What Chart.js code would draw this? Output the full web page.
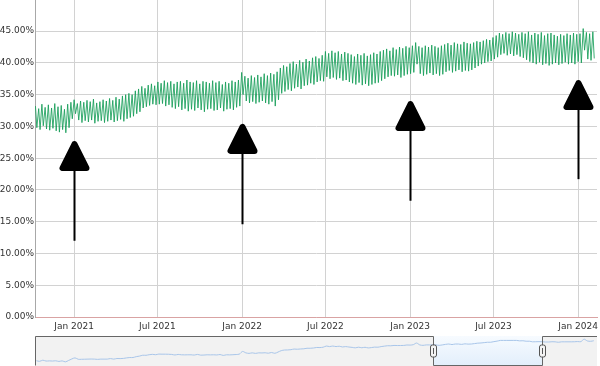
<!DOCTYPE html>
<html>
<head>
<meta charset="utf-8">
<script src="https://cdn.jsdelivr.net/npm/chart.js@4.4.1/dist/chart.umd.min.js"></script>
<style>
  body { margin: 0; background: #fff; }
  #wrap { position: relative; width: 600px; height: 366px; }
  #main { position: absolute; left: 0; top: 0; width: 600px; height: 334px; }
  #nav { position: absolute; left: 0; top: 336px; width: 600px; height: 30px; }
</style>
</head>
<body>
<div id="wrap">
  <div id="main"><canvas id="mainChart"></canvas></div>
  <div id="nav"><canvas id="navChart"></canvas></div>
</div>
<script>
// first week of data and end of the visible range
var startDate = '2020-10-08';
var endDate = '2024-02-11';

// weekly peaks and troughs (%), one entry per week from startDate
var weeklyHigh = [
    33.2, 32.8, 33.5, 33.0, 33.4, 32.9, 33.6, 33.1, 33.3, 32.7, 33.5, 33.8,
    34.2, 33.6, 34.0, 33.8, 34.1, 33.9, 34.3, 33.7,
    33.9, 34.2, 34.0, 34.4, 34.1, 34.6, 34.3, 34.8, 35.0,
    35.2, 35.0, 35.6, 35.9, 36.3, 36.0, 36.5, 36.7, 36.4,
    37.0, 36.8, 37.2, 36.9, 37.1, 36.7, 37.0,
    37.1, 36.8, 37.3, 37.0, 36.9, 37.2, 36.7, 37.1, 37.0, 36.8, 37.2, 36.9, 37.1, 36.6, 37.0, 36.8, 37.2, 37.0, 37.3,
    38.5,
    37.9, 37.6, 38.0, 37.7, 38.1, 37.8, 38.3, 38.0, 38.4, 38.2, 38.6,
    39.2, 39.6, 39.4, 39.9, 40.2, 39.8, 40.4, 40.1, 40.6, 40.3, 40.8, 41.0, 40.7, 41.2,
    41.8, 41.5, 41.9, 41.6, 41.8, 41.4, 41.7, 41.5,
    41.3, 41.0, 41.4, 41.2, 41.5, 41.1, 41.3, 41.6, 41.4, 41.8, 42.0,
    42.2, 41.9, 42.4, 42.1, 42.5, 42.3, 42.6, 42.4, 42.7,
    43.2,
    42.6, 42.4, 42.7, 42.5, 42.8, 42.6, 42.4, 42.7,
    42.9, 43.1, 42.8, 43.2, 43.0, 42.9, 43.3, 43.1, 43.0, 43.2, 43.4, 43.3,
    43.5, 43.7, 43.6, 44.0, 44.3,
    44.7, 44.5, 44.8, 44.6, 44.9, 44.7, 44.5, 44.8,
    44.6, 44.9, 44.4, 44.7, 44.5, 44.8, 44.3, 44.6, 44.7, 44.4, 44.2, 44.5, 44.3, 44.6,
    44.4, 44.7, 44.5, 44.6,
    45.4,
    44.8, 44.6, 44.9
];
var weeklyLow = [
    29.8, 29.5, 30.1, 29.6, 29.4, 29.7, 29.3, 29.1, 29.5, 29.0, 29.8, 31.2,
    32.0, 31.0, 30.6, 30.9, 30.7, 31.0, 30.5, 30.8,
    30.9, 30.6, 30.8, 31.0, 30.7, 30.9, 31.1, 30.8, 31.2,
    31.4, 31.6, 32.0, 32.3, 32.9, 33.1, 33.3, 33.5, 33.4,
    33.5, 33.6, 33.2, 33.4, 33.0, 32.8, 33.1,
    32.6, 32.8, 32.4, 32.7, 32.5, 32.9, 32.6, 32.3, 32.7, 32.8, 32.5, 32.6, 32.9, 32.4, 32.7, 32.8, 32.6, 33.0, 33.2,
    35.0,
    34.0, 33.7, 33.9, 33.6, 33.8, 34.0, 33.7, 33.5, 33.9, 33.2, 34.2,
    35.2, 35.5, 35.8, 35.6, 36.0, 36.2, 35.9, 36.4, 36.5, 36.8, 36.6, 37.0, 37.2, 37.1,
    37.8, 37.5, 37.7, 37.4, 37.6, 37.2, 37.3, 37.0,
    36.8, 36.6, 36.9, 36.5, 36.7, 36.4, 36.6, 36.8, 36.9, 37.2, 37.5,
    37.8, 38.0, 37.9, 38.1, 37.7, 38.0, 38.2, 38.3, 38.5,
    39.8,
    38.3, 38.0, 38.2, 38.4, 38.1, 38.3, 38.0, 38.2,
    38.6, 38.8, 38.5, 38.7, 38.9, 38.6, 38.8, 38.7, 38.9, 39.2, 39.5, 39.8,
    40.0, 40.2, 40.3, 40.6, 40.9,
    41.3, 41.5, 41.2, 41.4, 41.1, 41.3, 41.0, 40.8,
    40.5, 40.2, 40.0, 39.8, 40.1, 39.7, 39.9, 39.6, 39.8, 40.0, 39.7, 39.9, 40.1, 39.8,
    40.0, 39.8, 40.2, 40.0,
    42.0,
    40.6, 40.4, 40.7
];

var tickDates = ['2021-01-01', '2021-07-01', '2022-01-01', '2022-07-01', '2023-01-01', '2023-07-01', '2024-01-01'];
var tickLabels = ['Jan 2021', 'Jul 2021', 'Jan 2022', 'Jul 2022', 'Jan 2023', 'Jul 2023', 'Jan 2024'];

// arrow markers: date, top (tip) and bottom value in %
var arrowDates = ['2021-01-01', '2022-01-01', '2023-01-01', '2024-01-01'];
var arrowTop = [27.7, 30.4, 34.0, 37.3];
var arrowBottom = [12.0, 14.6, 18.3, 21.7];

// navigator selection
var navRange = ['2023-02-20', '2023-10-14'];

function dayOf(s) {
    return (Date.parse(s) - Date.parse('2021-01-01')) / 86400000;
}

var start = dayOf(startDate);
var points = [];
var navPoints = [];
for (var i = 0; i < weeklyHigh.length; i++) {
    points.push({ x: start + i * 7 + 1, y: weeklyHigh[i] });
    points.push({ x: start + i * 7 + 4, y: weeklyLow[i] });
    navPoints.push({ x: start + i * 7 + 3, y: (weeklyHigh[i] + weeklyLow[i]) / 2 });
}
var tickDays = tickDates.map(dayOf);

var arrowPlugin = {
    id: 'arrows',
    afterDatasetsDraw: function (chart) {
        var c = chart.ctx, xs = chart.scales.x, ys = chart.scales.y;
        c.save();
        c.fillStyle = '#000';
        c.strokeStyle = '#000';
        for (var i = 0; i < arrowDates.length; i++) {
            var x = Math.round(xs.getPixelForValue(dayOf(arrowDates[i]))) + 0.5;
            var yt = ys.getPixelForValue(arrowTop[i]);
            var yb = ys.getPixelForValue(arrowBottom[i]);
            c.lineWidth = 2;
            c.beginPath();
            c.moveTo(x, yb);
            c.lineTo(x, yt + 20);
            c.stroke();
            c.lineWidth = 6;
            c.lineJoin = 'round';
            c.beginPath();
            c.moveTo(x, yt + 3);
            c.lineTo(x - 12, yt + 27);
            c.lineTo(x + 12, yt + 27);
            c.closePath();
            c.fill();
            c.stroke();
        }
        c.restore();
    }
};

Chart.defaults.font.family = '"DejaVu Sans", sans-serif';
Chart.defaults.color = '#333';

new Chart(document.getElementById('mainChart'), {
    type: 'line',
    data: {
        datasets: [{
            data: points,
            borderColor: 'rgba(22, 158, 88, 0.85)',
            borderWidth: 1,
            pointRadius: 0,
            tension: 0,
            fill: false
        }]
    },
    options: {
        responsive: true,
        maintainAspectRatio: false,
        animation: false,
        layout: { padding: { left: 0, right: 3, top: 0, bottom: 0 } },
        plugins: { legend: { display: false }, tooltip: { enabled: false } },
        scales: {
            x: {
                type: 'linear',
                min: start,
                max: dayOf(endDate),
                afterBuildTicks: function (s) {
                    s.ticks = tickDays.map(function (v) { return { value: v }; });
                },
                afterFit: function (s) {
                    s.height = 17;
                    s.paddingLeft = 0;
                    s.paddingRight = 0;
                },
                ticks: {
                    autoSkip: false,
                    maxRotation: 0,
                    padding: 4,
                    font: { size: 9 },
                    callback: function (v, idx) { return tickLabels[idx]; }
                },
                grid: { color: '#d2d2d2', drawTicks: false },
                border: { color: '#d9a3a3' }
            },
            y: {
                min: 0,
                max: 49.9,
                afterFit: function (s) {
                    s.width = 35;
                    s.paddingTop = 0;
                    s.paddingBottom = 0;
                },
                ticks: {
                    stepSize: 5,
                    includeBounds: false,
                    padding: 1,
                    font: { size: 9 },
                    callback: function (v) { return v.toFixed(2) + '%'; }
                },
                grid: { color: '#d2d2d2', drawTicks: false },
                border: { color: '#a8a8a8' }
            }
        }
    },
    plugins: [arrowPlugin]
});

var navPlugin = {
    id: 'navigator',
    beforeDatasetsDraw: function (chart) {
        var c = chart.ctx, a = chart.chartArea, xs = chart.scales.x;
        var x1 = Math.round(xs.getPixelForValue(dayOf(navRange[0]))) + 0.5;
        var x2 = Math.round(xs.getPixelForValue(dayOf(navRange[1]))) + 0.5;
        c.save();
        c.fillStyle = '#f2f2f2';
        c.fillRect(a.left, a.top, a.right - a.left, a.bottom - a.top);
        var g = c.createLinearGradient(0, a.top, 0, a.bottom);
        g.addColorStop(0, '#f7fbff');
        g.addColorStop(1, '#e2eefb');
        c.fillStyle = g;
        c.fillRect(x1, a.top, x2 - x1, a.bottom - a.top);
        c.restore();
    },
    afterDatasetsDraw: function (chart) {
        var c = chart.ctx, a = chart.chartArea, xs = chart.scales.x;
        var x1 = Math.round(xs.getPixelForValue(dayOf(navRange[0]))) + 0.5;
        var x2 = Math.round(xs.getPixelForValue(dayOf(navRange[1]))) + 0.5;
        var top = a.top + 0.5, bot = a.bottom - 0.5, left = a.left + 0.5;
        c.save();
        c.strokeStyle = '#666';
        c.lineWidth = 1;
        c.beginPath();
        c.moveTo(left, bot);
        c.lineTo(left, top);
        c.lineTo(x1, top);
        c.lineTo(x1, bot);
        c.lineTo(x2, bot);
        c.lineTo(x2, top);
        c.lineTo(a.right, top);
        c.stroke();
        [x1, x2].forEach(function (x) {
            c.fillStyle = '#f4f4f4';
            c.strokeStyle = '#555';
            c.beginPath();
            c.roundRect(x - 3, a.top + 9, 6, 12, 2);
            c.fill();
            c.stroke();
            c.beginPath();
            c.moveTo(x, a.top + 12);
            c.lineTo(x, a.top + 18);
            c.stroke();
        });
        c.restore();
    }
};

new Chart(document.getElementById('navChart'), {
    type: 'line',
    data: {
        datasets: [{
            data: navPoints,
            borderColor: '#a9c6ea',
            borderWidth: 1,
            pointRadius: 0,
            tension: 0.3,
            fill: false
        }]
    },
    options: {
        responsive: true,
        maintainAspectRatio: false,
        animation: false,
        layout: { padding: { left: 35, right: 3, top: 0, bottom: 0 } },
        plugins: { legend: { display: false }, tooltip: { enabled: false } },
        scales: {
            x: { type: 'linear', display: false, min: start, max: dayOf(endDate) },
            y: { display: false, min: 28.5, max: 45.5 }
        }
    },
    plugins: [navPlugin]
});
</script>
</body>
</html>
